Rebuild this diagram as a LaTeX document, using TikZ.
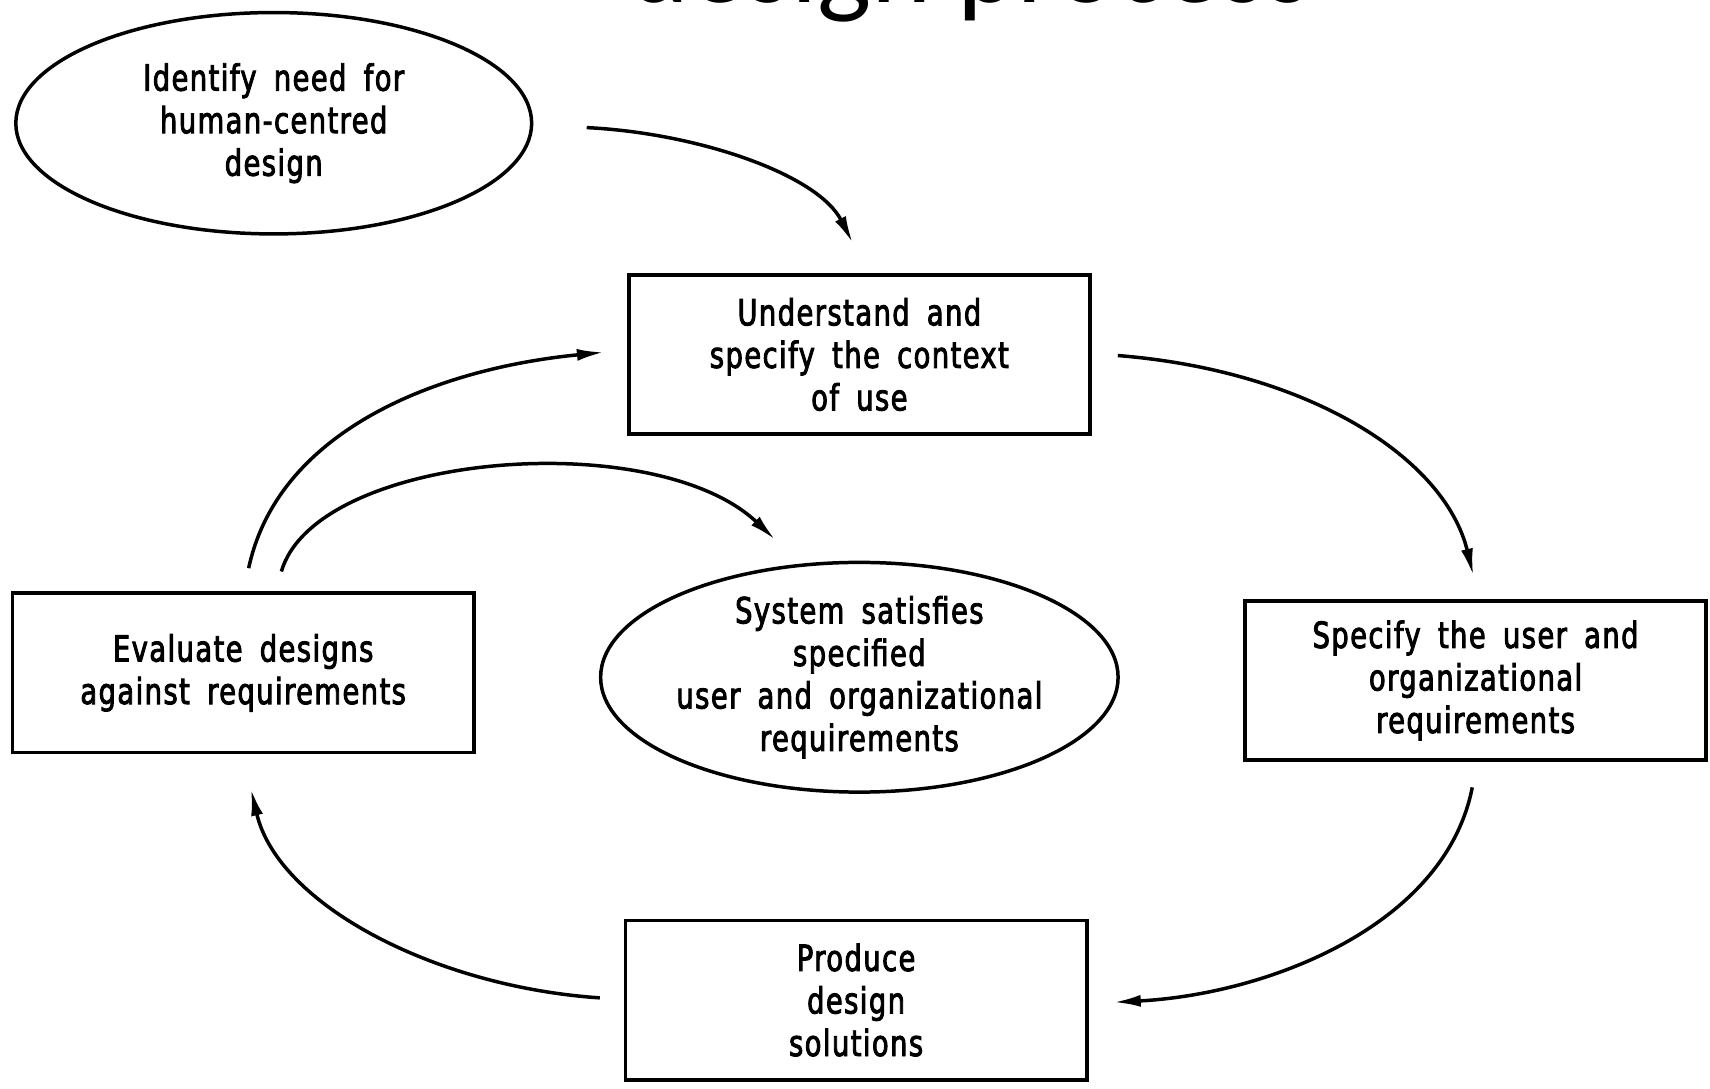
\documentclass[tikz,border=0pt]{standalone}
\usepackage{fontspec}
\setmainfont{DejaVu Sans}[FakeStretch=0.76,LetterSpace=4,FakeBold=2.5,WordSpace=1.7]
\newfontfamily\titlefont{Carlito}
\usetikzlibrary{shapes.geometric,arrows.meta}
\newcommand\dgfont{\fontsize{33}{39}\selectfont}
\begin{document}
\begin{tikzpicture}[x=1pt,y=-1pt,
  box/.style={draw,line width=3.4pt,minimum width=423pt,minimum height=146pt,inner sep=0pt,align=center,font=\dgfont},
  oval/.style={draw,ellipse,line width=3.2pt,inner sep=0pt,align=center,font=\dgfont},
  conn/.style={line width=3.2pt,-{Latex[length=25pt,width=11pt]}}]
\useasboundingbox (0,0) rectangle (1568,998);
\clip (0,0) rectangle (1568,998);
% title (cut off at the top)
\node[anchor=base,inner sep=0pt,font=\titlefont\fontsize{105}{105}\selectfont] (title) at (890,2) {design process};
% nodes
\node[oval,minimum width=473pt,minimum height=203pt] (need) at (251,113) {Identify need for\\human-centred\\design};
\node[box] (context) at (788,325) {Understand and\\specify the context\\of use};
\node[box] (reqs) at (1353,624) {Specify the user and\\organizational\\requirements};
\node[box] (produce) at (785,917) {Produce\\design\\solutions};
\node[box] (evaluate) at (223,617) {Evaluate designs\\against requirements};
\node[oval,minimum width=474pt,minimum height=206pt] (sat) at (788,621) {System satisfies\\specified\\user and organizational\\requirements};
% connector end points
\coordinate (a0) at (538,117);  \coordinate (a1) at (782,223);
\coordinate (b0) at (1025,326); \coordinate (b1) at (1351,528);
\coordinate (c0) at (1350,722); \coordinate (c1) at (1021,919);
\coordinate (d0) at (550,915);  \coordinate (d1) at (230,723);
\coordinate (e0) at (228,521);  \coordinate (e1) at (554,323);
\coordinate (f0) at (258,524);  \coordinate (f1) at (711,495);
% connectors
\draw[conn] (a0) .. controls (640,122) and (750,160) .. (a1);
\draw[conn] (b0) .. controls (1200,340) and (1325,420) .. (b1);
\draw[conn] (c0) .. controls (1325,850) and (1160,912) .. (c1);
\draw[conn] (d0) .. controls (400,905) and (255,830) .. (d1);
\draw[conn] (e0) .. controls (255,395) and (400,338) .. (e1);
\draw[conn] (f0) .. controls (290,415) and (600,390) .. (f1);
\end{tikzpicture}
\end{document}
